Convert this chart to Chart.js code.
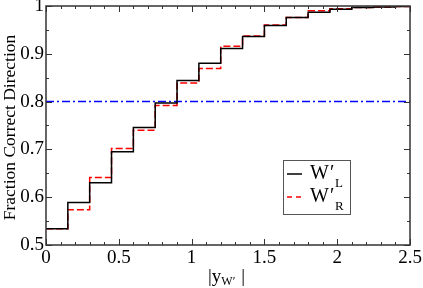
<!DOCTYPE html>
<html>
<head>
<meta charset="utf-8">
<script src="https://cdn.jsdelivr.net/npm/chart.js@4/dist/chart.umd.min.js"></script>
<style>
  html, body { margin: 0; padding: 0; background: #fff; }
  #wrap { width: 423px; height: 288px; }
</style>
</head>
<body>
<div id="wrap"><canvas id="c" width="423" height="288"></canvas></div>
<script>
// bin lower edges in |y_W'|, width 0.15
const binEdges = [0, 0.15, 0.3, 0.45, 0.6, 0.75, 0.9, 1.05, 1.2, 1.35, 1.5, 1.65, 1.8, 1.95, 2.1, 2.25, 2.4];
const leftValues  = [0.534, 0.589, 0.630, 0.695, 0.746, 0.797, 0.844, 0.880, 0.911, 0.936, 0.959, 0.976, 0.987, 0.993, 0.997, 0.998, 0.999];
const rightValues = [0.534, 0.574, 0.641, 0.702, 0.740, 0.792, 0.839, 0.869, 0.916, 0.937, 0.960, 0.976, 0.990, 0.994, 0.997, 0.998, 0.999];
const xTicks = [0, 0.5, 1, 1.5, 2, 2.5];
const yTicks = [0.5, 0.6, 0.7, 0.8, 0.9, 1];
const refLine = 0.8;
const xMax = 2.5;

const serif = '"Liberation Serif", "DejaVu Serif", serif';

// each bin: horizontal at its value, then vertical up/down at the next edge
function stepPoints(vals) {
  const pts = binEdges.map((x, i) => ({ x: x, y: vals[i] }));
  pts.push({ x: xMax, y: vals[vals.length - 1] });
  return pts;
}

const frameAndTicks = {
  id: 'frameAndTicks',
  afterDraw(chart) {
    const ctx = chart.ctx;
    const a = chart.chartArea;
    const xs = chart.scales.x, ys = chart.scales.y;
    ctx.save();
    ctx.strokeStyle = '#333';
    ctx.lineWidth = 1;
    // inward ticks on all four sides
    ctx.beginPath();
    for (let v = 0; v <= xMax + 1e-9; v += 0.1) {
      const major = Math.abs(v * 2 - Math.round(v * 2)) < 1e-6;
      const len = major ? 6 : 3;
      const px = Math.round(xs.getPixelForValue(v)) + 0.5;
      ctx.moveTo(px, a.bottom); ctx.lineTo(px, a.bottom - len);
      ctx.moveTo(px, a.top); ctx.lineTo(px, a.top + len);
    }
    for (let v = 0.5; v <= 1 + 1e-9; v += 0.05) {
      const major = Math.abs(v * 10 - Math.round(v * 10)) < 1e-6;
      const len = major ? 6 : 3;
      const py = Math.round(ys.getPixelForValue(v)) + 0.5;
      ctx.moveTo(a.left, py); ctx.lineTo(a.left + len, py);
      ctx.moveTo(a.right, py); ctx.lineTo(a.right - len, py);
    }
    ctx.stroke();
    // frame
    ctx.lineWidth = 1.5;
    ctx.strokeRect(a.left, a.top, a.right - a.left, a.bottom - a.top);

    // y title
    ctx.fillStyle = '#000';
    ctx.font = '17.5px ' + serif;
    ctx.textAlign = 'center';
    ctx.textBaseline = 'middle';
    ctx.save();
    ctx.translate(10, (a.top + a.bottom) / 2 + 2);
    ctx.rotate(-Math.PI / 2);
    ctx.fillText('Fraction Correct Direction', 0, 0);
    ctx.restore();

    // x title |y_W'|
    ctx.textAlign = 'left';
    ctx.textBaseline = 'alphabetic';
    const base = 282;
    let x0 = 208;
    ctx.font = '19px ' + serif;
    ctx.fillText('|y', x0, base);
    x0 += ctx.measureText('|y').width;
    ctx.font = '12px ' + serif;
    ctx.fillText('W\u2032', x0, base + 3);
    x0 += ctx.measureText('W\u2032').width + 6;
    ctx.font = '19px ' + serif;
    ctx.fillText('|', x0, base);

    // legend
    const lx = 283, ly = 160, lw = 67, lh = 54;
    ctx.fillStyle = '#fff';
    ctx.fillRect(lx, ly, lw, lh);
    ctx.strokeStyle = '#555';
    ctx.lineWidth = 1;
    ctx.strokeRect(lx + 0.5, ly + 0.5, lw, lh);
    const rows = [
      { color: '#000', dash: [], sub: 'L', y: ly + 14, subDy: 10 },
      { color: '#ff0000', dash: [5, 4], sub: 'R', y: ly + 37, subDy: 10 }
    ];
    rows.forEach(r => {
      ctx.strokeStyle = r.color;
      ctx.lineWidth = 1.5;
      ctx.setLineDash(r.dash);
      ctx.beginPath();
      ctx.moveTo(lx + 4, r.y); ctx.lineTo(lx + 19, r.y);
      ctx.stroke();
      ctx.setLineDash([]);
      ctx.fillStyle = '#000';
      ctx.font = '20px ' + serif;
      ctx.textBaseline = 'middle';
      ctx.fillText('W', lx + 27, r.y);
      const w = ctx.measureText('W').width;
      ctx.fillText('\u2032', lx + 28 + w, r.y);
      ctx.font = '13px ' + serif;
      ctx.fillText(r.sub, lx + 33 + w, r.y + r.subDy);
    });
    ctx.restore();
  }
};

new Chart(document.getElementById('c'), {
  type: 'line',
  data: {
    datasets: [
      {
        label: 'W\u2032L',
        data: stepPoints(leftValues),
        stepped: 'before',
        borderColor: '#000',
        borderWidth: 1.5,
        pointRadius: 0,
        fill: false
      },
      {
        label: 'W\u2032R',
        data: stepPoints(rightValues),
        stepped: 'before',
        borderColor: '#ff0000',
        borderWidth: 1.5,
        borderDash: [7, 3],
        pointRadius: 0,
        fill: false
      },
      {
        label: 'ref',
        data: [{ x: 0, y: refLine }, { x: xMax, y: refLine }],
        borderColor: '#0000ff',
        borderWidth: 1.5,
        borderDash: [8, 3, 2, 3],
        pointRadius: 0,
        fill: false
      }
    ]
  },
  options: {
    responsive: false,
    animation: false,
    layout: { padding: { top: 6, right: 13, left: 0, bottom: 0 } },
    plugins: { legend: { display: false }, tooltip: { enabled: false } },
    scales: {
      x: {
        type: 'linear',
        min: 0,
        max: xMax,
        afterBuildTicks: s => { s.ticks = xTicks.map(v => ({ value: v })); },
        afterFit: s => { s.height = 43; s.paddingLeft = 0; s.paddingRight = 0; },
        grid: { display: false, drawTicks: false },
        border: { display: false },
        ticks: {
          padding: 2,
          color: '#000',
          font: { family: serif, size: 19 },
          maxRotation: 0,
          autoSkip: false,
          callback: v => String(v)
        }
      },
      y: {
        min: 0.5,
        max: 1,
        afterBuildTicks: s => { s.ticks = yTicks.map(v => ({ value: v })); },
        afterFit: s => { s.width = 46; s.paddingTop = 0; s.paddingBottom = 0; },
        grid: { display: false, drawTicks: false },
        border: { display: false },
        ticks: {
          padding: 2,
          color: '#000',
          font: { family: serif, size: 19 },
          autoSkip: false,
          callback: v => String(Math.round(v * 10) / 10)
        }
      }
    }
  },
  plugins: [frameAndTicks]
});
</script>
</body>
</html>
